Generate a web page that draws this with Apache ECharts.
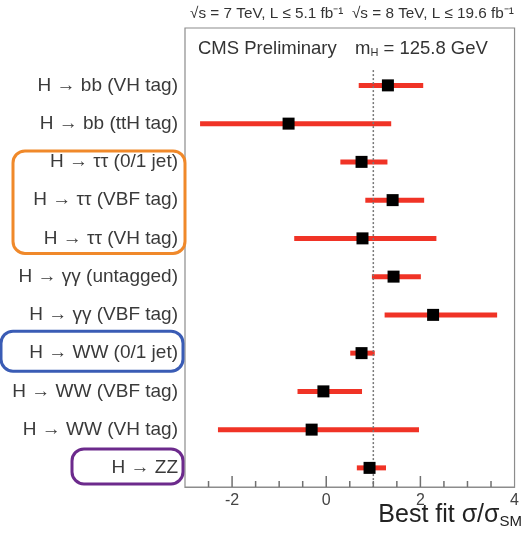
<!doctype html>
<html lang="en">
<head>
    <meta charset="UTF-8">
    <script src="https://cdn.jsdelivr.net/npm/echarts@6/dist/echarts.min.js"></script>
    <title>Signal strength by channel</title>
    <style>
        html, body { margin: 0; padding: 0; background: #fff; }
    </style>
</head>
<body>
<div id="mu-chart" style="width: 522px;height:543px;"></div>
<script>
    // channel labels, top to bottom
    var channels = [
        'H \u2192 bb (VH tag)',
        'H \u2192 bb (ttH tag)',
        'H \u2192 \u03c4\u03c4 (0/1 jet)',
        'H \u2192 \u03c4\u03c4 (VBF tag)',
        'H \u2192 \u03c4\u03c4 (VH tag)',
        'H \u2192 \u03b3\u03b3 (untagged)',
        'H \u2192 \u03b3\u03b3 (VBF tag)',
        'H \u2192 WW (0/1 jet)',
        'H \u2192 WW (VBF tag)',
        'H \u2192 WW (VH tag)',
        'H \u2192 ZZ'
    ];
    // best fit sigma/sigma_SM and the 1 sigma interval
    var bestFit = [1.31, -0.80, 0.75, 1.41, 0.77, 1.43, 2.27, 0.75, -0.06, -0.31, 0.92];
    var errLow  = [0.69, -2.68, 0.30, 0.83, -0.68, 0.97, 1.24, 0.51, -0.61, -2.30, 0.65];
    var errHigh = [2.06, 1.38, 1.30, 2.08, 2.34, 2.01, 3.63, 1.03, 0.76, 1.97, 1.27];
    var xLabels = [-2, 0, 2, 4];
    var xTicks = [-2.5, -2, -1.5, -1, -0.5, 0, 0.5, 1, 1.5, 2, 2.5, 3, 3.5];
    var xTickLong = [0, 1, 0, 0, 0, 1, 0, 0, 0, 1, 0, 0, 0];
    var smValue = 1;

    // top band is left empty for the "CMS Preliminary" line
    var categories = [''].concat(channels);
    var lastRow = channels[channels.length - 1];

    var myChart = echarts.init(document.getElementById('mu-chart'));
    var font = 'Liberation Sans, Arial, sans-serif';
    var frame = '#8c8c8c';

    var gridTop = 28, gridBottom = 56;
    var bandH = (543 - gridTop - gridBottom) / categories.length;

    // ticks sit on the last row and are pushed down to the bottom edge
    var tickData = xTicks.map(function (v, i) {
        var len = xTickLong[i] ? 11 : 6;
        return {
            value: [v, lastRow],
            symbolSize: [1.5, len],
            symbolOffset: [0, bandH / 2 - len / 2]
        };
    });

    var option = {
        animation: false,
        backgroundColor: '#fff',
        grid: {
            left: 185, right: 5, top: gridTop, bottom: gridBottom,
            show: true, backgroundColor: 'transparent', borderColor: frame, borderWidth: 1.2
        },
        xAxis: {
            type: 'value', min: -3, max: 4, interval: 1,
            splitLine: { show: false },
            axisLine: { show: true, lineStyle: { color: frame, width: 1.2 } },
            axisTick: { show: false },
            axisLabel: {
                color: '#444', fontSize: 16, fontFamily: font, margin: 6,
                formatter: function (v) { return xLabels.indexOf(v) >= 0 ? String(v) : ''; }
            }
        },
        yAxis: {
            type: 'category', data: categories, inverse: true,
            axisLine: { show: false },
            axisTick: { show: false },
            splitLine: { show: false },
            axisLabel: { color: '#3a3a3a', fontSize: 19, fontFamily: font, margin: 7 }
        },
        series: [{
            type: 'custom',
            name: 'interval',
            z: 2,
            encode: { x: [0, 1], y: 2 },
            data: channels.map(function (c, i) { return [errLow[i], errHigh[i], c]; }),
            renderItem: function (params, api) {
                var a = api.coord([api.value(0), api.value(2)]);
                var b = api.coord([api.value(1), api.value(2)]);
                return {
                    type: 'line',
                    shape: { x1: a[0], y1: a[1], x2: b[0], y2: b[1] },
                    style: { stroke: '#f03326', lineWidth: 5 }
                };
            }
        }, {
            type: 'custom',
            name: 'sm',
            z: 3,
            encode: { x: 0, y: 1 },
            data: [[smValue, channels[0]]],
            renderItem: function (params, api) {
                var p = api.coord([api.value(0), api.value(1)]);
                var band = api.size([0, 1])[1];
                var bottom = params.coordSys.y + params.coordSys.height;
                return {
                    type: 'line',
                    shape: { x1: p[0], y1: p[1] - band * 0.4, x2: p[0], y2: bottom },
                    style: { stroke: '#777', lineWidth: 1.5, lineDash: [2, 2] }
                };
            }
        }, {
            type: 'scatter',
            name: 'ticks',
            z: 3,
            silent: true,
            clip: false,
            symbol: 'rect',
            itemStyle: { color: '#707070', opacity: 1 },
            data: tickData
        }, {
            type: 'scatter',
            name: 'best fit',
            z: 4,
            symbol: 'rect',
            symbolSize: 12,
            itemStyle: { color: '#000', opacity: 1 },
            data: channels.map(function (c, i) { return [bestFit[i], c]; })
        }]
    };
    myChart.setOption(option);

    // rounded boxes around some channel labels, placed from the category axis
    function rowY(i) {
        return myChart.convertToPixel({ yAxisIndex: 0 }, channels[i]);
    }
    function box(left, right, first, last, padTop, padBottom, color) {
        var top = rowY(first) - padTop;
        var bottom = rowY(last) + padBottom;
        return {
            type: 'rect',
            shape: { x: left, y: top, width: right - left, height: bottom - top, r: 12 },
            style: { fill: 'none', stroke: color, lineWidth: 3 }
        };
    }

    myChart.setOption({
        graphic: [
            {
                type: 'text', left: 190, top: 6,
                style: { text: '\u221as = 7 TeV, L \u2264 5.1 fb\u207b\u00b9  \u221as = 8 TeV, L \u2264 19.6 fb\u207b\u00b9', font: '15.3px ' + font, fill: '#333' }
            },
            {
                type: 'text', left: 198, top: 39,
                style: { text: 'CMS Preliminary', font: '18.5px ' + font, fill: '#333' }
            },
            {
                type: 'text', left: 355, top: 39,
                style: {
                    text: '{m|m}{s|H}{m| = 125.8 GeV}',
                    rich: {
                        m: { font: '18.5px ' + font, fill: '#333' },
                        s: { font: '11px ' + font, fill: '#333', verticalAlign: 'bottom', padding: [9, 0, 0, 0] }
                    }
                }
            },
            {
                type: 'text', right: 0, top: 503,
                style: {
                    text: '{m|Best fit \u03c3/\u03c3}{s|SM}',
                    rich: {
                        m: { font: '25px ' + font, fill: '#222' },
                        s: { font: '15px ' + font, fill: '#222', padding: [13, 0, 0, 0] }
                    }
                }
            },
            box(13, 185, 2, 4, 11, 15, '#f0892a'),
            box(1, 183, 7, 7, 22, 18, '#3a5cb5'),
            box(72, 183, 10, 10, 19, 16, '#6c2a8c')
        ]
    });
</script>
</body>
</html>
